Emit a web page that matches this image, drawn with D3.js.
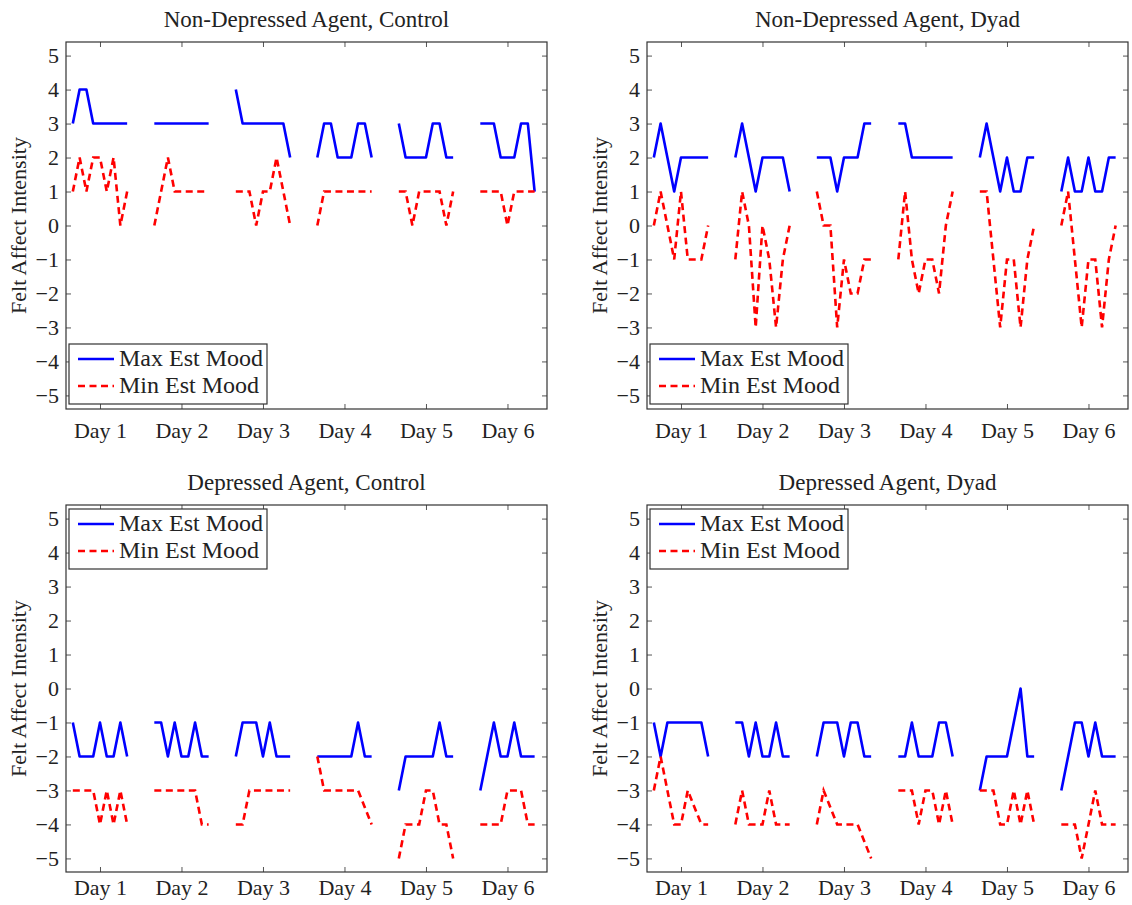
<!DOCTYPE html>
<html>
<head>
<meta charset="utf-8">
<script src="https://cdn.jsdelivr.net/npm/d3@7"></script>
<style>
body { margin: 0; background: #fff; }
svg { display: block; }
text { font-family: "Liberation Serif", "Times New Roman", serif; fill: #222; }
</style>
</head>
<body>
<svg id="chart" width="1132" height="905"></svg>
<script>
// ---------- data ----------
const dayLabels = ["Day 1", "Day 2", "Day 3", "Day 4", "Day 5", "Day 6"];
const dayTicks = [1, 2, 3, 4, 5, 6];
const yTicks = [-5, -4, -3, -2, -1, 0, 1, 2, 3, 4, 5];
const legendLabels = ["Max Est Mood", "Min Est Mood"];
const panelTitles = [
  "Non-Depressed Agent, Control",
  "Non-Depressed Agent, Dyad",
  "Depressed Agent, Control",
  "Depressed Agent, Dyad"
];
const yAxisLabel = "Felt Affect Intensity";

// nine estimates per day, one array per day
const ndControlMax = [
  [3, 4, 4, 3, 3, 3, 3, 3, 3],
  [3, 3, 3, 3, 3, 3, 3, 3, 3],
  [4, 3, 3, 3, 3, 3, 3, 3, 2],
  [2, 3, 3, 2, 2, 2, 3, 3, 2],
  [3, 2, 2, 2, 2, 3, 3, 2, 2],
  [3, 3, 3, 2, 2, 2, 3, 3, 1]
];
const ndControlMin = [
  [1, 2, 1, 2, 2, 1, 2, 0, 1],
  [0, 1, 2, 1, 1, 1, 1, 1, 1],
  [1, 1, 1, 0, 1, 1, 2, 1, 0],
  [0, 1, 1, 1, 1, 1, 1, 1, 1],
  [1, 1, 0, 1, 1, 1, 1, 0, 1],
  [1, 1, 1, 1, 0, 1, 1, 1, 1]
];
const ndDyadMax = [
  [2, 3, 2, 1, 2, 2, 2, 2, 2],
  [2, 3, 2, 1, 2, 2, 2, 2, 1],
  [2, 2, 2, 1, 2, 2, 2, 3, 3],
  [3, 3, 2, 2, 2, 2, 2, 2, 2],
  [2, 3, 2, 1, 2, 1, 1, 2, 2],
  [1, 2, 1, 1, 2, 1, 1, 2, 2]
];
const ndDyadMin = [
  [0, 1, 0, -1, 1, -1, -1, -1, 0],
  [-1, 1, 0, -3, 0, -1, -3, -1, 0],
  [1, 0, 0, -3, -1, -2, -2, -1, -1],
  [-1, 1, -1, -2, -1, -1, -2, 0, 1],
  [1, 1, -1, -3, -1, -1, -3, -1, 0],
  [0, 1, -1, -3, -1, -1, -3, -1, 0]
];
const dControlMax = [
  [-1, -2, -2, -2, -1, -2, -2, -1, -2],
  [-1, -1, -2, -1, -2, -2, -1, -2, -2],
  [-2, -1, -1, -1, -2, -1, -2, -2, -2],
  [-2, -2, -2, -2, -2, -2, -1, -2, -2],
  [-3, -2, -2, -2, -2, -2, -1, -2, -2],
  [-3, -2, -1, -2, -2, -1, -2, -2, -2]
];
const dControlMin = [
  [-3, -3, -3, -3, -4, -3, -4, -3, -4],
  [-3, -3, -3, -3, -3, -3, -3, -4, -4],
  [-4, -4, -3, -3, -3, -3, -3, -3, -3],
  [-2, -3, -3, -3, -3, -3, -3, -3.5, -4],
  [-5, -4, -4, -4, -3, -3, -4, -4, -5],
  [-4, -4, -4, -4, -3, -3, -3, -4, -4]
];
const dDyadMax = [
  [-1, -2, -1, -1, -1, -1, -1, -1, -2],
  [-1, -1, -2, -1, -2, -2, -1, -2, -2],
  [-2, -1, -1, -1, -2, -1, -1, -2, -2],
  [-2, -2, -1, -2, -2, -2, -1, -1, -2],
  [-3, -2, -2, -2, -2, -1, 0, -2, -2],
  [-3, -2, -1, -1, -2, -1, -2, -2, -2]
];
const dDyadMin = [
  [-3, -2, -3, -4, -4, -3, -3.5, -4, -4],
  [-4, -3, -4, -4, -4, -3, -4, -4, -4],
  [-4, -3, -3.5, -4, -4, -4, -4, -4.5, -5],
  [-3, -3, -3, -4, -3, -3, -4, -3, -4],
  [-3, -3, -3, -4, -4, -3, -4, -3, -4],
  [-4, -4, -4, -5, -4, -3, -4, -4, -4]
];

// ---------- layout ----------
const W = 481, H = 367;
const panels = [
  { title: panelTitles[0], max: ndControlMax, min: ndControlMin, left: 66,  top: 42,  legendAt: "bottom", pad: 13 },
  { title: panelTitles[1], max: ndDyadMax,    min: ndDyadMin,    left: 647, top: 42,  legendAt: "bottom", pad: 13 },
  { title: panelTitles[2], max: dControlMax,  min: dControlMin,  left: 66,  top: 505, legendAt: "top",    pad: 7 },
  { title: panelTitles[3], max: dDyadMax,     min: dDyadMin,     left: 647, top: 505, legendAt: "top",    pad: 7 }
];

const svg = d3.select("#chart");
const fmt = d => d < 0 ? "\u2212" + Math.abs(d) : String(d);
const BLUE = "#0000ff", RED = "#ff0000";
const DASH = "7,4.5";

panels.forEach(p => {
  const g = svg.append("g").attr("transform", `translate(${p.left},${p.top})`);
  const x = d3.scaleLinear().domain([0.583, 6.485]).range([0, W]);
  const y = d3.scaleLinear().domain([-5.4, 5.4]).range([H, 0]);

  // axes with inward ticks on all four sides
  const axL = d3.axisLeft(y).tickValues(yTicks).tickFormat(fmt).tickSizeInner(-5).tickSizeOuter(0).tickPadding(7);
  const axR = d3.axisRight(y).tickValues(yTicks).tickFormat("").tickSizeInner(-5).tickSizeOuter(0);
  const axB = d3.axisBottom(x).tickValues(dayTicks).tickFormat(d => dayLabels[d - 1]).tickSizeInner(-5).tickSizeOuter(0).tickPadding(p.pad);
  const axT = d3.axisTop(x).tickValues(dayTicks).tickFormat("").tickSizeInner(-5).tickSizeOuter(0);

  const gl = g.append("g").call(axL);
  const gr = g.append("g").attr("transform", `translate(${W},0)`).call(axR);
  const gb = g.append("g").attr("transform", `translate(0,${H})`).call(axB);
  const gt = g.append("g").call(axT);
  [gl, gr, gb, gt].forEach(a => {
    a.select(".domain").remove();
    a.selectAll("line").attr("stroke", "#555");
    a.selectAll("text").attr("fill", "#222").style("font-family", '"Liberation Serif", serif').style("font-size", "22px");
  });
  gb.selectAll("text").attr("dy", "0.71em");

  // data lines
  const line = d3.line().x(d => x(d.x)).y(d => y(d.v));
  const toPts = (arr, di) => arr.map((v, i) => ({ x: dayTicks[di] + (i - 4) / 12, v }));
  p.max.forEach((dayArr, di) => {
    g.append("path").datum(toPts(dayArr, di)).attr("d", line)
      .attr("fill", "none").attr("stroke", BLUE).attr("stroke-width", 2.6).attr("stroke-linejoin", "round");
  });
  p.min.forEach((dayArr, di) => {
    g.append("path").datum(toPts(dayArr, di)).attr("d", line)
      .attr("fill", "none").attr("stroke", RED).attr("stroke-width", 2.6).attr("stroke-dasharray", DASH);
  });

  // frame
  g.append("rect").attr("x", 0).attr("y", 0).attr("width", W).attr("height", H)
    .attr("fill", "none").attr("stroke", "#333").attr("stroke-width", 1.2);

  // title
  g.append("text").attr("x", W / 2).attr("y", -15).attr("text-anchor", "middle")
    .style("font-size", "23px").text(p.title);

  // y label
  g.append("text").attr("transform", `translate(-40,${H / 2}) rotate(-90)`)
    .attr("text-anchor", "middle").style("font-size", "22px").text(yAxisLabel);

  // legend
  const lgTop = p.legendAt === "bottom" ? H - 65 : 4;
  const lg = g.append("g").attr("transform", `translate(3,${lgTop})`);
  lg.append("rect").attr("width", 198).attr("height", 60).attr("fill", "#fff")
    .attr("stroke", "#333").attr("stroke-width", 1.2);
  const rows = [{ c: BLUE, dash: null, y: 15 }, { c: RED, dash: DASH, y: 42 }];
  rows.forEach((r, i) => {
    lg.append("line").attr("x1", 9).attr("x2", 45).attr("y1", r.y).attr("y2", r.y)
      .attr("stroke", r.c).attr("stroke-width", 2.6).attr("stroke-dasharray", r.dash);
    lg.append("text").attr("x", 50).attr("y", r.y + 7).style("font-size", "24px").text(legendLabels[i]);
  });
});
</script>
</body>
</html>
